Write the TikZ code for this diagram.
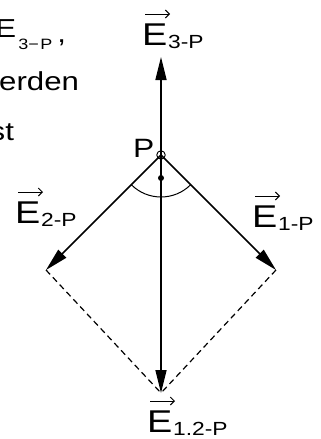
\documentclass[tikz,border=0pt]{standalone}
\usepackage{fontspec}
\setmainfont{Liberation Sans}[FakeStretch=1.2]
\usetikzlibrary{arrows.meta}
\newcommand\labfont{\fontsize{31.5}{31.5}\selectfont}
\newcommand\labsubfont{\fontsize{19}{19}\selectfont}
\newcommand\txtfont{\fontsize{26}{30}\selectfont}
\newcommand\veclabel[4]{%
  \node[lab,anchor=base west] (#1) at (#2,#3) {\labfont E\hspace{1pt}\raisebox{-3pt}{\labsubfont #4}};
  \draw[vecbar] ([xshift=3pt,yshift=31pt]#1.base west) -- ++(25,0);
}
\begin{document}
\begin{tikzpicture}[x=1pt,y=-1pt,
  vecarrow/.style={line width=1.6pt,-{Triangle[length=23pt,width=11pt]}},
  dashline/.style={line width=1.2pt,dash pattern=on 6pt off 4pt},
  vecbar/.style={line width=1pt,-{Straight Barb[length=4pt,width=8pt]}},
  lab/.style={inner sep=0pt,outer sep=0pt},
  txt/.style={inner sep=0pt,outer sep=0pt,font=\txtfont},
  ptcircle/.style={draw,circle,minimum size=8.5pt,inner sep=0pt,line width=0.9pt},
  dotnode/.style={fill,circle,minimum size=6pt,inner sep=0pt},
  anglearc/.style={line width=1pt}]
\useasboundingbox (0,0) rectangle (321,439);
\clip (0,0) rectangle (321,439);
% text fragments at the left
\node[txt,anchor=base east] (t1) at (66,41) {\raisebox{3pt}{E}\hspace{2pt}\raisebox{-9pt}{\fontsize{15}{15}\selectfont 3−\hspace{1.5pt}P}\hspace{5pt}\raisebox{-2pt}{,}};
\node[txt,anchor=base east] (t2) at (79,90) {erden};
\node[txt,anchor=base east] (t3) at (14,140) {st};
% points
\coordinate (T) at (161,57);
\coordinate (B) at (161,393);
\coordinate (L) at (46,270);
\coordinate (R) at (276,270);
% dashed completion
\draw[dashline] (L) -- (B);
\draw[dashline] (R) -- (B);
% arrows
\draw[vecarrow] (161,155) -- (T);
\draw[vecarrow] (161,155) -- (B);
\draw[vecarrow] (161,155) -- (L);
\draw[vecarrow] (161,155) -- (R);
% point P
\node[ptcircle] (P) at (161,155) {};
\node[dotnode] (D) at (161,178) {};
\draw[anglearc] (P.center) ++(45:42) arc[start angle=45,end angle=135,radius=42];
\node[lab,anchor=base west,font=\fontsize{26.5}{26.5}\selectfont] (Plab) at (133,157) {P};
% labels
\veclabel{e3}{142}{45}{3-P}
\veclabel{e2}{15}{223}{2-P}
\veclabel{e1}{252}{227}{1-P}
\veclabel{e12}{147}{432}{1.2-P}
\end{tikzpicture}
\end{document}
